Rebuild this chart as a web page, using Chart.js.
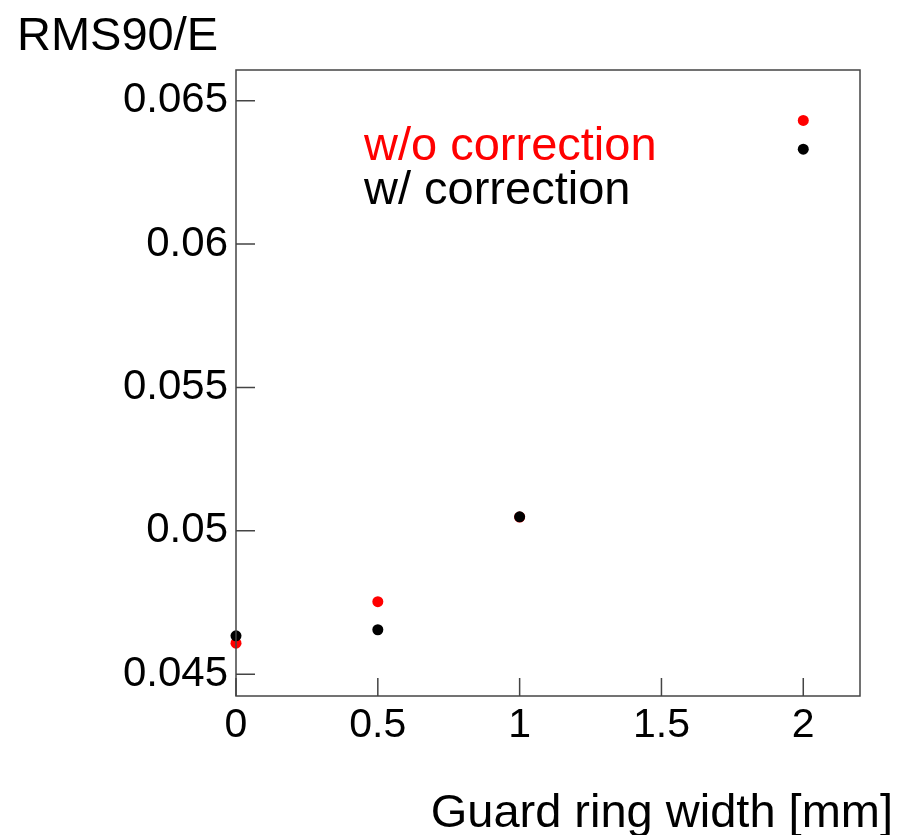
<!DOCTYPE html>
<html>
<head>
<meta charset="utf-8">
<script src="https://cdn.jsdelivr.net/npm/chart.js@4.4.1/dist/chart.umd.min.js"></script>
<style>
  body { margin: 0; background: #fff; }
  canvas { display: block; }
</style>
</head>
<body>
<canvas id="rmsChart" width="909" height="835"></canvas>
<script>
// guard ring width in mm
const widths = [0, 0.5, 1, 2];
// RMS90/E without and with correction
const rmsNoCorr = [0.04608, 0.04753, 0.05048, 0.06431];
const rmsCorr = [0.04634, 0.04655, 0.05049, 0.06331];

const xTicks = [0, 0.5, 1, 1.5, 2];
const yTicks = [0.045, 0.05, 0.055, 0.06, 0.065];

const FONT = '"Liberation Sans", Arial, Helvetica, sans-serif';

const toPoints = (xs, ys) => xs.map((x, i) => ({ x: x, y: ys[i] }));

// frame, inward ticks, titles and legend text
const decorations = {
  id: 'decorations',
  afterDraw(chart) {
    const { ctx, chartArea: a, scales } = chart;
    ctx.save();
    ctx.strokeStyle = '#444';
    ctx.lineWidth = 1.5;
    ctx.strokeRect(a.left, a.top, a.right - a.left, a.bottom - a.top);

    ctx.beginPath();
    yTicks.forEach(v => {
      const y = scales.y.getPixelForValue(v);
      ctx.moveTo(a.left, y);
      ctx.lineTo(a.left + 19, y);
    });
    xTicks.forEach(v => {
      const x = scales.x.getPixelForValue(v);
      ctx.moveTo(x, a.bottom);
      ctx.lineTo(x, a.bottom - 18);
    });
    ctx.stroke();

    ctx.font = '47px ' + FONT;
    ctx.textBaseline = 'alphabetic';
    ctx.fillStyle = '#000';
    ctx.textAlign = 'left';
    ctx.fillText('RMS90/E', 17, 50);
    ctx.textAlign = 'right';
    ctx.fillText('Guard ring width [mm]', 893, 827);

    ctx.textAlign = 'left';
    ctx.fillStyle = '#ff0000';
    ctx.fillText('w/o correction', 364, 160);
    ctx.fillStyle = '#000';
    ctx.fillText('w/ correction', 364, 204);
    ctx.restore();
  }
};

const ctx = document.getElementById('rmsChart').getContext('2d');
new Chart(ctx, {
  type: 'scatter',
  data: {
    datasets: [
      {
        label: 'w/ correction',
        data: toPoints(widths, rmsCorr),
        backgroundColor: '#000',
        borderColor: '#000',
        pointRadius: 5.5,
        pointBorderWidth: 0,
        clip: false,
        order: 0
      },
      {
        label: 'w/o correction',
        data: toPoints(widths, rmsNoCorr),
        backgroundColor: '#ff0000',
        borderColor: '#ff0000',
        pointRadius: 5.5,
        pointBorderWidth: 0,
        clip: false,
        order: 1
      }
    ]
  },
  options: {
    responsive: false,
    animation: false,
    layout: { padding: { left: 0, top: 70, right: 49, bottom: 0 } },
    plugins: {
      legend: { display: false },
      tooltip: { enabled: false }
    },
    scales: {
      x: {
        type: 'linear',
        min: 0,
        max: 2.2,
        grid: { display: false, drawTicks: false },
        border: { display: false },
        afterFit: scale => { scale.height = 139; },
        afterBuildTicks: scale => { scale.ticks = xTicks.map(v => ({ value: v })); },
        ticks: {
          padding: 5,
          color: '#000',
          font: { family: FONT, size: 41 },
          callback: v => String(v)
        }
      },
      y: {
        type: 'linear',
        min: 0.04424,
        max: 0.06607,
        grid: { display: false, drawTicks: false },
        border: { display: false },
        afterFit: scale => { scale.width = 236; },
        afterBuildTicks: scale => { scale.ticks = yTicks.map(v => ({ value: v })); },
        ticks: {
          padding: 8,
          color: '#000',
          font: { family: FONT, size: 42 },
          callback: v => String(+v.toFixed(4))
        }
      }
    }
  },
  plugins: [decorations]
});
</script>
</body>
</html>
